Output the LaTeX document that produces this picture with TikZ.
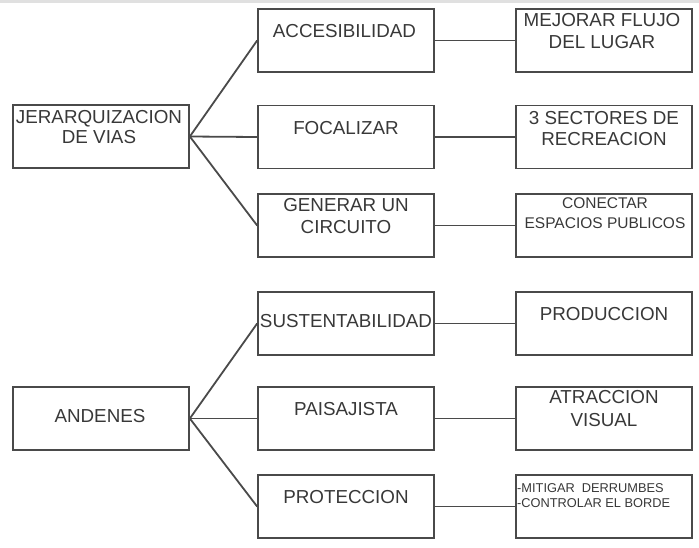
\documentclass[tikz,border=0pt]{standalone}
\usepackage{fontspec}
\setmainfont{Liberation Sans}
\definecolor{ln}{HTML}{4A4A4A}
\definecolor{tx}{HTML}{383838}
\tikzset{
  box/.style={draw=ln, line width=1.7pt, rectangle, minimum width=176pt, minimum height=63pt, inner sep=0pt},
  txt/.style={text=tx, font=\fontsize{18.8}{21.5}\selectfont, align=center, inner sep=0pt, text height=0.72em, text depth=0pt},
  lead/.style={font=\fontsize{18.8}{#1}\selectfont},
  stxt/.style={txt, font=\fontsize{15.5}{20}\selectfont},
  xtxt/.style={txt, font=\fontsize{12.8}{15}\selectfont, align=left},
  conn/.style={draw=ln, line width=1.8pt}
}
\begin{document}
\begin{tikzpicture}[x=1pt,y=-1pt]
\useasboundingbox (0,0) rectangle (699,547);
\fill[black!12] (0,0) rectangle (699,2.5);
% top group
\node[box] (jer) at (101,136.5) {};
\node[box] (acc) at (346,40.5) {};
\node[box] (foc) at (346,137) {};
\node[box] (gen) at (346,225.5) {};
\node[box] (mej) at (604,40.5) {};
\node[box] (sec) at (604,137) {};
\node[box] (con) at (604,225.5) {};
\node[txt, lead=20] (jerT) at (99,140) {JERARQUIZACION\\DE VIAS};
\node[txt] (accT) at (344.5,34) {ACCESIBILIDAD};
\node[txt] (focT) at (346,131) {FOCALIZAR};
\node[txt, lead=22] (genT) at (346,230) {GENERAR UN\\CIRCUITO};
\node[txt, lead=22.5] (mejT) at (602,45) {MEJORAR FLUJO\\DEL LUGAR};
\node[txt, lead=21.5] (secT) at (604,142) {3 SECTORES DE\\RECREACION};
\node[stxt] (conT) at (605,225) {CONECTAR\\ESPACIOS PUBLICOS};
\draw[conn] (jer.east) -- (acc.west);
\draw[conn] (jer.east) -- (foc.west);
\draw[conn] (jer.east) -- (gen.west);
\draw[conn] (acc.east) -- (mej.west);
\draw[conn] (foc.east) -- (sec.west);
\draw[conn] (gen.east) -- (con.west);
% bottom group
\node[box] (and) at (101,418.5) {};
\node[box] (sus) at (346,323.5) {};
\node[box] (pai) at (346,418.5) {};
\node[box] (pro) at (346,506.5) {};
\node[box] (prod) at (604,323.5) {};
\node[box] (atr) at (604,418.5) {};
\node[box] (mit) at (604,506.5) {};
\node[txt] (andT) at (100,418.5) {ANDENES};
\node[txt] (susT) at (346,323.5) {SUSTENTABILIDAD};
\node[txt] (paiT) at (346,411.5) {PAISAJISTA};
\node[txt] (proT) at (346,499.5) {PROTECCION};
\node[txt] (prodT) at (604,316.5) {PRODUCCION};
\node[txt, lead=23.5] (atrT) at (604,423) {ATRACCION\\VISUAL};
\node[xtxt, anchor=west] (mitT) at (517,504) {-MITIGAR\ \ DERRUMBES\\-CONTROLAR EL BORDE};
\draw[conn] (and.east) -- (sus.west);
\draw[conn] (and.east) -- (pai.west);
\draw[conn] (and.east) -- (pro.west);
\draw[conn] (sus.east) -- (prod.west);
\draw[conn] (pai.east) -- (atr.west);
\draw[conn] (pro.east) -- (mit.west);
\end{tikzpicture}
\end{document}
